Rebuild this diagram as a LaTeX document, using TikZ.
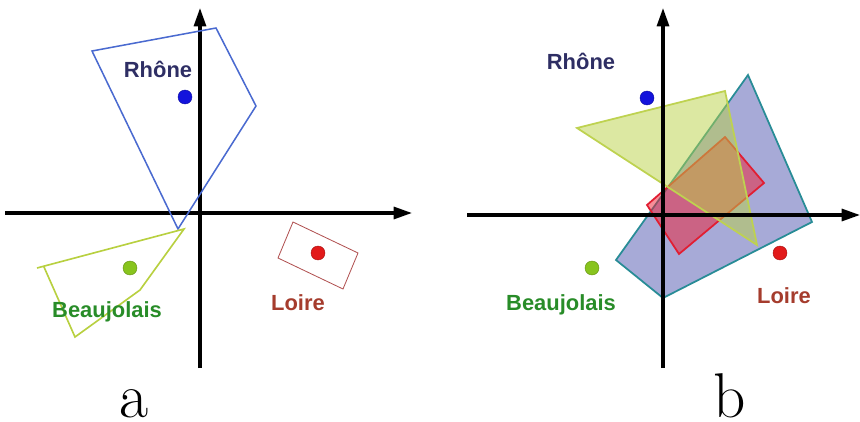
\documentclass[tikz,border=0pt]{standalone}
\usepackage{fontspec}
\newfontfamily\labelfont{Liberation Sans}
\usetikzlibrary{arrows.meta}

\definecolor{rhonetext}{RGB}{46,46,100}
\definecolor{beaujtext}{RGB}{40,140,40}
\definecolor{loiretext}{RGB}{165,60,45}
\definecolor{rhoneline}{RGB}{74,106,208}
\definecolor{beaujline}{RGB}{184,208,64}
\definecolor{loireline}{RGB}{176,80,80}
\definecolor{rhonedot}{RGB}{20,20,220}
\definecolor{beaujdot}{RGB}{136,196,30}
\definecolor{loiredot}{RGB}{226,26,26}
\definecolor{quadfill}{RGB}{80,85,175}
\definecolor{quadline}{RGB}{40,140,150}
\definecolor{trifill}{RGB}{185,210,70}
\definecolor{triline}{RGB}{190,210,80}
\definecolor{rectfill}{RGB}{240,30,50}
\definecolor{rectline}{RGB}{225,30,50}

\begin{document}
\begin{tikzpicture}[x=0.03cm,y=-0.03cm,
    axis/.style={line width=2.6pt,-{Triangle[length=0.55cm,width=0.36cm]}},
    dot/.style={circle,inner sep=0pt,minimum size=0.42cm,draw=#1!75!black,fill=#1},
    region/.style={font=\labelfont\bfseries\fontsize{18.7}{20}\selectfont,anchor=base},
    panel/.style={font=\fontsize{54}{60}\selectfont,anchor=base,inner sep=0pt}]
  \useasboundingbox (0,0) rectangle (860,422);

  % Panel a: axes
  \coordinate (aW) at (5,213);
  \coordinate (aE) at (412,213);
  \coordinate (aS) at (200,368);
  \coordinate (aN) at (200,8);
  \draw[axis] (aW) -- (aE);
  \draw[axis] (aS) -- (aN);
  % Panel a: hulls
  \draw[rhoneline,line width=1.3pt] (92,51) -- (216,28) -- (256,106) -- (178,229) -- cycle;
  \draw[beaujline,line width=1.4pt] (37,268) -- (184,229) -- (140,290) -- (75,337) -- (44,267);
  \draw[loireline,line width=0.7pt] (293,222) -- (358,253) -- (343,289) -- (278,258) -- cycle;
  % Panel a: centres and names
  \node[dot=rhonedot] (aRhoneDot) at (185,97) {};
  \node[dot=beaujdot] (aBeaujDot) at (130,268) {};
  \node[dot=loiredot] (aLoireDot) at (318,253) {};
  \node[region,text=rhonetext] (aRhone) at (158,78) {Rhône};
  \node[region,text=beaujtext] (aBeauj) at (107,317) {Beaujolais};
  \node[region,text=loiretext] (aLoire) at (298,310) {Loire};
  \node[panel] (aLabel) at (134,417) {a};

  % Panel b: axes
  \coordinate (bW) at (467,215);
  \coordinate (bE) at (860,215);
  \coordinate (bS) at (663,368);
  \coordinate (bN) at (663,8);
  % Panel b: hulls
  \draw[quadline,line width=1.5pt,fill=quadfill,fill opacity=0.5]
    (748,75) -- (812,222) -- (663,298) -- (616,260) -- cycle;
  \draw[rectline,line width=1.5pt,fill=rectfill,fill opacity=0.5]
    (725,137) -- (764,183) -- (679,254) -- (647,205) -- cycle;
  \draw[triline,line width=1.5pt,fill=trifill,fill opacity=0.5]
    (577,128) -- (725,91) -- (757,245) -- cycle;
  \draw[axis] (bW) -- (bE);
  \draw[axis] (bS) -- (bN);
  % Panel b: centres and names
  \node[dot=rhonedot] (bRhoneDot) at (647,98) {};
  \node[dot=beaujdot] (bBeaujDot) at (592,268) {};
  \node[dot=loiredot] (bLoireDot) at (780,253) {};
  \node[region,text=rhonetext] (bRhone) at (581,70) {Rhône};
  \node[region,text=beaujtext] (bBeauj) at (561,310) {Beaujolais};
  \node[region,text=loiretext] (bLoire) at (784,303) {Loire};
  \node[panel] (bLabel) at (730,417) {b};
\end{tikzpicture}
\end{document}
